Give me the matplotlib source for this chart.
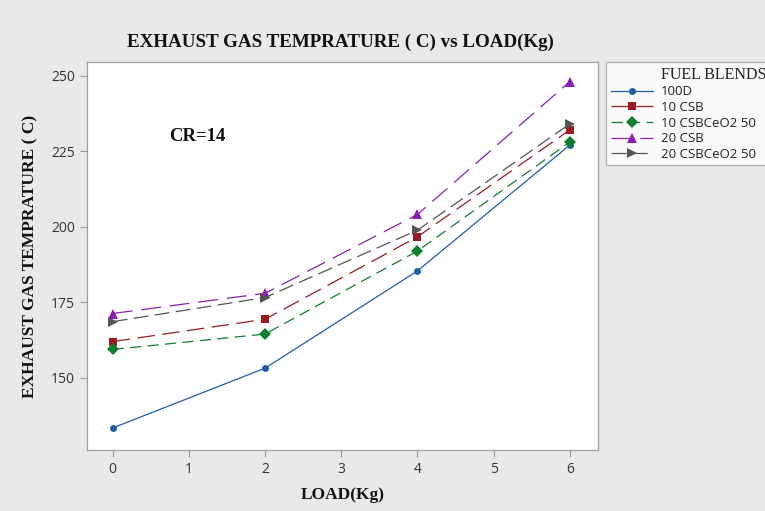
import matplotlib
matplotlib.use("Agg")
import matplotlib.pyplot as plt
from matplotlib.lines import Line2D

# Data
load = [0, 2, 4, 6]
series_names = ["100D", "10 CSB", "10 CSBCeO2 50", "20 CSB", "20 CSBCeO2 50"]
temp_100d = [133.3, 153.1, 185.3, 227.0]
temp_10csb = [161.9, 169.3, 196.6, 232.0]
temp_10csbceo2 = [159.3, 164.4, 191.9, 228.0]
temp_20csb = [171.2, 177.9, 204.0, 248.0]
temp_20csbceo2 = [168.5, 176.5, 198.8, 234.0]
x_ticks = [0, 1, 2, 3, 4, 5, 6]
y_ticks = [150, 175, 200, 225, 250]

series_values = [temp_100d, temp_10csb, temp_10csbceo2, temp_20csb, temp_20csbceo2]
colors = ["#1c5ea8", "#9b1c20", "#0f7f2f", "#8a1fb0", "#555555"]
markers = ["o", "s", "D", "^", ">"]
msizes = [5, 6, 6.5, 7.5, 7.5]
dashes = [None, (14, 6), (9, 5), (16, 7), (12, 5)]

bg = "#e9e9e9"
serif = "Liberation Serif"
sans = "Open Sans"

fig = plt.figure(figsize=(7.65, 5.11), dpi=100, facecolor=bg)
ax = fig.add_axes([87 / 765, 1 - 450 / 511, (598 - 87) / 765, (450 - 62) / 511])
ax.set_facecolor("white")

handles = []
for name, vals, c, m, ms, d in zip(series_names, series_values, colors, markers, msizes, dashes):
    line, = ax.plot(load, vals, color=c, marker=m, markersize=ms, linewidth=0.9,
                    markeredgewidth=0, label=name)
    if d is not None:
        line.set_dashes(d)
    handles.append(line)

ax.set_xlim(-0.337, 6.37)
ax.set_ylim(126, 254.5)
ax.set_xticks(x_ticks)
ax.set_yticks(y_ticks)
ax.tick_params(axis="both", direction="out", length=5, width=0.8, color="#9a9a9a",
               labelsize=10, labelcolor="#333333")
for lbl in ax.get_xticklabels() + ax.get_yticklabels():
    lbl.set_fontfamily(sans)
for sp in ax.spines.values():
    sp.set_color("#a0a0a0")
    sp.set_linewidth(0.9)

ax.set_xlabel("LOAD(Kg)", fontfamily=serif, fontweight="bold", fontsize=12.5,
              color="#111111", labelpad=7)
ax.set_ylabel("EXHAUST GAS TEMPRATURE ( C)", fontfamily=serif, fontweight="bold",
              fontsize=12.5, color="#111111", labelpad=9)

fig.text(340 / 765, 1 - 42 / 511, "EXHAUST GAS TEMPRATURE ( C) vs LOAD(Kg)",
         ha="center", va="center", fontfamily=serif, fontweight="bold",
         fontsize=13.7, color="#111111")

ax.text(0.215, 0.807, "CR=14", transform=ax.transAxes, ha="center", va="center",
        fontfamily=serif, fontweight="bold", fontsize=13.5, color="#111111")

# Legend with its heading as the first row
title_handle = Line2D([], [], linestyle="none", marker=None)
leg = fig.legend([title_handle] + handles, ["FUEL BLENDS"] + series_names,
                 loc="upper left", bbox_to_anchor=(606 / 765, 1 - 62 / 511),
                 frameon=True, fancybox=False, fontsize=9.5, handlelength=3.2,
                 handletextpad=0.6, labelspacing=0.2, borderpad=0.35,
                 borderaxespad=0)
leg.get_frame().set_edgecolor("#a0a0a0")
leg.get_frame().set_linewidth(0.9)
leg.get_frame().set_facecolor("white")
texts = leg.get_texts()
texts[0].set_fontfamily(serif)
texts[0].set_fontsize(11.5)
for t in texts[1:]:
    t.set_fontfamily(sans)
for t in texts:
    t.set_color("#222222")

fig.savefig("out.png", dpi=100, facecolor=bg)
